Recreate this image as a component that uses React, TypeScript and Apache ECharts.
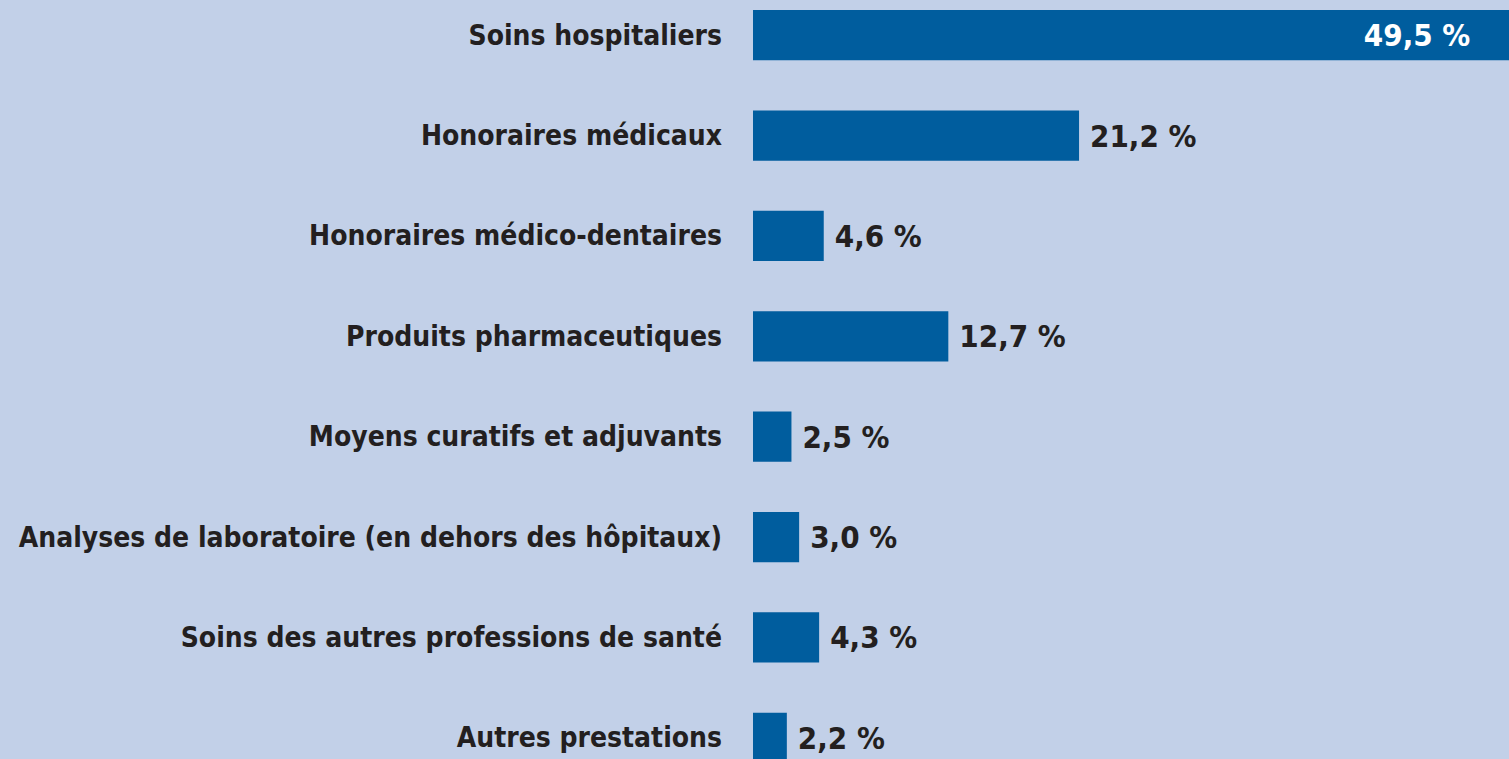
import React, { useEffect, useRef } from "react";
import * as echarts from "echarts";

const categories = [
  "Soins hospitaliers",
  "Honoraires médicaux",
  "Honoraires médico-dentaires",
  "Produits pharmaceutiques",
  "Moyens curatifs et adjuvants",
  "Analyses de laboratoire (en dehors des hôpitaux)",
  "Soins des autres professions de santé",
  "Autres prestations",
];
const values = [49.5, 21.2, 4.6, 12.7, 2.5, 3.0, 4.3, 2.2];

const FONT = "'DejaVu Sans Condensed', 'Liberation Sans Narrow', sans-serif";
const fmt = (v: number) => v.toFixed(1).replace(".", ",") + " %";

export default function App() {
  const ref = useRef<HTMLDivElement>(null);
  useEffect(() => {
    document.body.style.margin = "0";
    const chart = echarts.init(ref.current!, null, { renderer: "svg" });
    chart.setOption({
      animation: false,
      backgroundColor: "#c2d0e8",
      grid: {
        left: 753,
        width: 769,
        top: -15,
        height: 803,
        outerBoundsMode: "none",
        containLabel: false,
      },
      xAxis: {
        type: "value",
        min: 0,
        max: 50,
        show: false,
        splitLine: { show: false },
      },
      yAxis: {
        type: "category",
        inverse: true,
        data: categories,
        axisLine: { show: false },
        axisTick: { show: false },
        axisLabel: {
          margin: 31,
          fontFamily: FONT,
          fontWeight: "bold",
          fontSize: 28,
          color: "#231f20",
        },
      },
      series: [
        {
          type: "bar",
          barWidth: "50%",
          itemStyle: { color: "#005d9e" },
          data: values.map((v, i) =>
            i === 0
              ? {
                  value: v,
                  label: { position: "insideRight", color: "#ffffff", distance: 44 },
                }
              : { value: v }
          ),
          label: {
            show: true,
            position: "right",
            distance: 11,
            fontFamily: FONT,
            fontWeight: "bold",
            fontSize: 31,
            color: "#231f20",
            formatter: (p: any) => fmt(p.value),
          },
        },
      ],
    });
    return () => chart.dispose();
  }, []);
  return (
    <div
      ref={ref}
      style={{ position: "absolute", left: 0, top: 0, width: 1509, height: 759 }}
    />
  );
}
